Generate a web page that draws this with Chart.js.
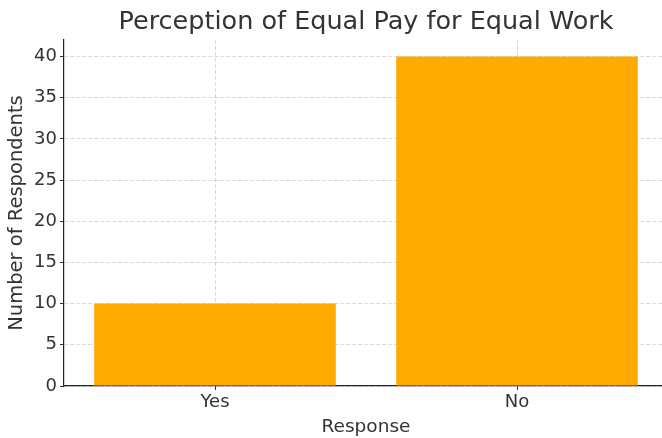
<!DOCTYPE html>
<html>
<head>
<meta charset="utf-8">
<script src="https://cdn.jsdelivr.net/npm/chart.js@4"></script>
<style>
  html, body { margin: 0; padding: 0; background: #fff; overflow: hidden; }
  #wrap { width: 668px; height: 438px; }
</style>
</head>
<body>
<div id="wrap"><canvas id="grafico" width="668" height="438"></canvas></div>
<script>
// respostas e contagens
const respostas = ['Yes', 'No']
const contagens = [10, 40]
const ticksY = [0, 5, 10, 15, 20, 25, 30, 35, 40]
const titulo = 'Perception of Equal Pay for Equal Work'

const fonte = "'DejaVu Sans', sans-serif"
const corTexto = '#333333'

// titulo centralizado sobre a area do grafico, nao sobre o canvas
const tituloCentral = {
  id: 'tituloCentral',
  afterDraw(chart) {
    const ctx = chart.ctx
    const area = chart.chartArea
    ctx.save()
    ctx.fillStyle = corTexto
    ctx.font = '25.5px ' + fonte
    ctx.textAlign = 'center'
    ctx.textBaseline = 'middle'
    ctx.fillText(titulo, (area.left + area.right) / 2, 22)
    ctx.restore()
  }
}

const grafico = new Chart(document.getElementById('grafico'), {
  type: 'bar',
  data: {
    labels: respostas,
    datasets: [{
      label: 'Number of Respondents',
      data: contagens,
      backgroundColor: '#FFAA00',
      borderWidth: 0,
      barPercentage: 0.8,
      categoryPercentage: 1.0
    }]
  },
  options: {
    responsive: false,
    animation: false,
    layout: { padding: { top: 40, left: 0, right: 0, bottom: 0 } },
    plugins: {
      legend: { display: false },
      tooltip: { enabled: false },
      title: { display: false }
    },
    scales: {
      x: {
        offset: true,
        grid: {
          offset: false,
          color: 'rgba(0,0,0,0.14)',
          tickColor: '#333',
          tickLength: 4,
          lineWidth: 1
        },
        border: { display: true, color: '#222', width: 1.2, dash: [4, 2] },
        ticks: {
          color: corTexto,
          font: { family: fonte, size: 18 },
          padding: 2
        },
        title: {
          display: true,
          text: 'Response',
          color: corTexto,
          font: { family: fonte, size: 18.5 },
          padding: { top: 0, bottom: 0 }
        },
        afterFit: (scale) => { scale.height = 52 }
      },
      y: {
        min: 0,
        max: 42,
        grid: {
          color: 'rgba(0,0,0,0.14)',
          tickColor: '#333',
          tickLength: 4,
          lineWidth: 1
        },
        border: { display: true, color: '#222', width: 1.2, dash: [4, 2] },
        ticks: {
          stepSize: 5,
          color: corTexto,
          font: { family: fonte, size: 18 },
          padding: 3
        },
        afterBuildTicks: (scale) => {
          scale.ticks = ticksY.map(v => ({ value: v }))
        },
        title: {
          display: true,
          text: 'Number of Respondents',
          color: corTexto,
          font: { family: fonte, size: 19.5 },
          padding: { top: 5, bottom: 0 }
        },
        afterFit: (scale) => { scale.width = 64 }
      }
    }
  },
  plugins: [tituloCentral]
})
</script>
</body>
</html>
